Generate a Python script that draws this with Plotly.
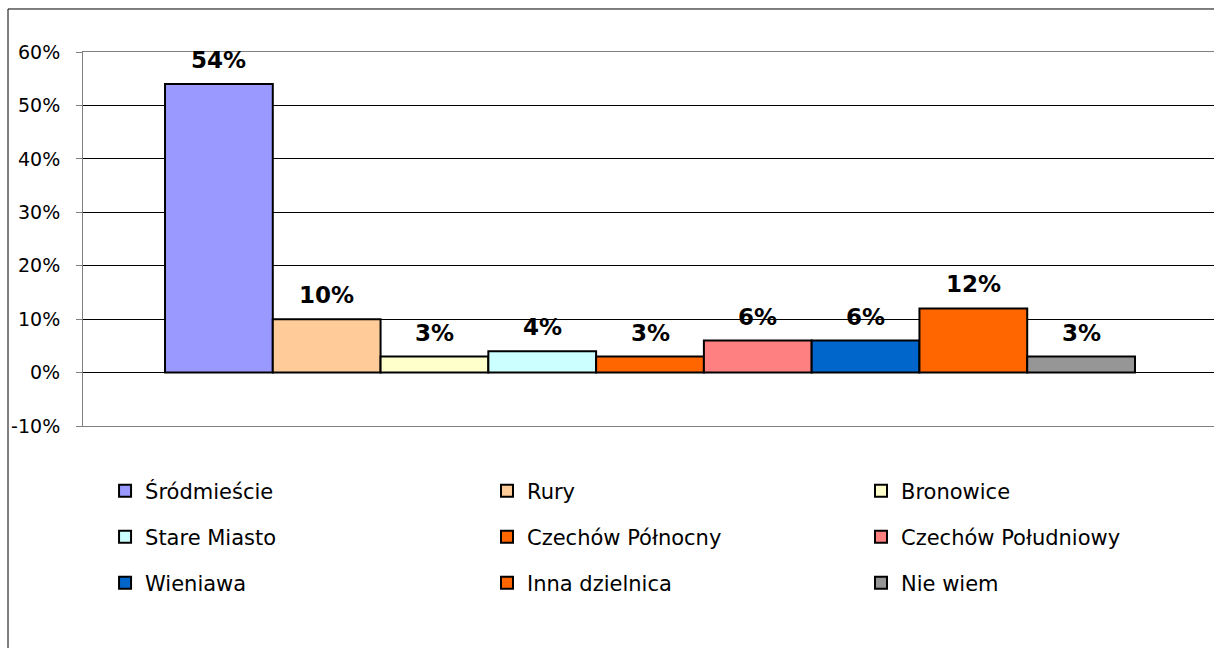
import plotly.graph_objects as go

# districts and survey shares (%)
districts = ["Śródmieście", "Rury", "Bronowice",
             "Stare Miasto", "Czechów Północny", "Czechów Południowy",
             "Wieniawa", "Inna dzielnica", "Nie wiem"]
shares = [54, 10, 3, 4, 3, 6, 6, 12, 3]
bar_colors = ["#9999FF", "#FFCC99", "#FFFFCC",
              "#CCFFFF", "#FF6600", "#FF8080",
              "#0066CC", "#FF6600", "#969696"]
tick_vals = [-10, 0, 10, 20, 30, 40, 50, 60]
tick_labels = ["-10%", "0%", "10%", "20%", "30%", "40%", "50%", "60%"]

FONT = "DejaVu Sans"

# legend grid: 3 columns x 3 rows below the plot (paper coords)
legend_cols = [0.0195, 0.3572, 0.6879]
legend_rows = [-0.174, -0.297, -0.420]

fig = go.Figure()
legends = {}

for i, (name, val, col) in enumerate(zip(districts, shares, bar_colors)):
    leg_id = "legend" if i == 0 else f"legend{i + 1}"
    fig.add_trace(go.Bar(
        x=[i], y=[val], width=1, name=name,
        marker=dict(color=col, line=dict(color="black", width=2)),
        legend=leg_id,
        hoverinfo="skip",
    ))
    legends[leg_id] = dict(x=legend_cols[i % 3], y=legend_rows[i // 3],
                           xanchor="left", yanchor="middle",
                           font=dict(family=FONT, size=21, color="black"),
                           bgcolor="rgba(0,0,0,0)")
    # data label above each bar
    fig.add_annotation(x=i, y=val, text=f"<b>{val}%</b>", showarrow=False,
                       yanchor="bottom", yshift=9,
                       font=dict(family=FONT, size=23, color="black"))

# outer chart border (cropped on the right/bottom like the original)
fig.add_shape(type="rect", xref="paper", yref="paper",
              x0=-0.0663, x1=1.2, y0=-1.0, y1=1.115,
              line=dict(color="black", width=1), layer="below")

fig.update_layout(
    width=1214, height=648,
    margin=dict(l=83, r=0, t=52, b=222),
    paper_bgcolor="white", plot_bgcolor="white",
    barmode="overlay",
    showlegend=True,
    font=dict(family=FONT, size=18, color="black"),
    xaxis=dict(range=[-1.261, 9.233], showticklabels=False, ticks="",
               showgrid=False, zeroline=False, showline=True,
               linecolor="#808080", linewidth=1, mirror=True, fixedrange=True),
    yaxis=dict(range=[-10, 60], tickvals=tick_vals, ticktext=tick_labels,
               showgrid=True, gridcolor="black", gridwidth=1,
               zeroline=True, zerolinecolor="black", zerolinewidth=1,
               showline=True, linecolor="#808080", linewidth=1,
               ticks="outside", ticklen=6, tickcolor="#808080",
               ticklabelstandoff=12,
               tickfont=dict(family=FONT, size=19, color="black")),
    **legends,
)

# page body margin off so the figure sits at the window origin
fig.write_html("out.html", config={"displayModeBar": False},
               post_script="document.body.style.margin='0px';")
